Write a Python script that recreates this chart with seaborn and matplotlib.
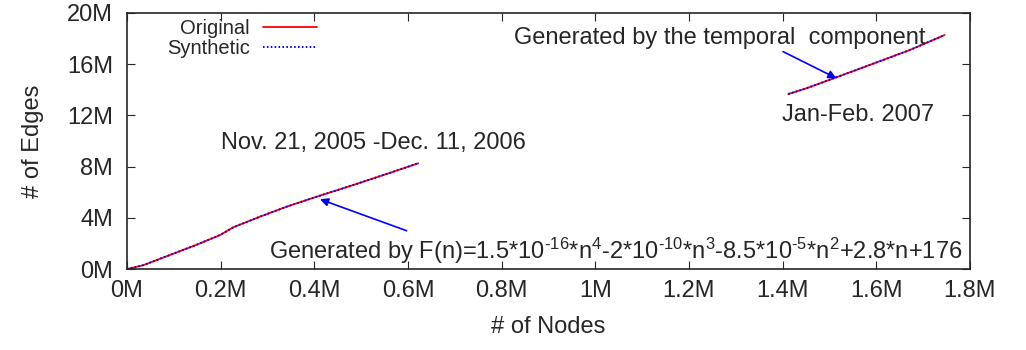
import pandas as pd
import matplotlib
matplotlib.use("Agg")
import matplotlib.pyplot as plt
import seaborn as sns

# values in millions
nodes_2006 = [0.0, 0.035, 0.092, 0.149, 0.199, 0.227, 0.284, 0.341, 0.405, 0.483, 0.554, 0.622]
edges_2006 = [0.0, 0.3, 1.1, 1.9, 2.66, 3.26, 4.09, 4.87, 5.65, 6.56, 7.42, 8.26]
nodes_2007 = [1.412, 1.451, 1.515, 1.586, 1.671, 1.746]
edges_2007 = [13.67, 14.12, 14.98, 15.94, 17.1, 18.28]

x_ticks = [0, 0.2, 0.4, 0.6, 0.8, 1.0, 1.2, 1.4, 1.6, 1.8]
x_labels = ["0M", "0.2M", "0.4M", "0.6M", "0.8M", "1M", "1.2M", "1.4M", "1.6M", "1.8M"]
y_ticks = [0, 4, 8, 12, 16, 20]
y_labels = ["0M", "4M", "8M", "12M", "16M", "20M"]

rows = []
for seg, (xs, ys) in enumerate([(nodes_2006, edges_2006), (nodes_2007, edges_2007)]):
    for series in ["Original", "Synthetic"]:
        for x, y in zip(xs, ys):
            rows.append({"nodes": x, "edges": y, "series": series, "seg": seg})
df = pd.DataFrame(rows)

sns.set_style("ticks")
plt.rcParams["font.family"] = ["Liberation Sans", "DejaVu Sans"]
plt.rcParams["font.size"] = 17
plt.rcParams["mathtext.fontset"] = "custom"
plt.rcParams["mathtext.rm"] = "Liberation Sans"
plt.rcParams["mathtext.it"] = "Liberation Sans"

fig = plt.figure(figsize=(10.26, 3.5), dpi=100)
ax = fig.add_axes([0.1238, 0.2314, 0.8216, 0.7315])

for seg in [0, 1]:
    d = df[(df["series"] == "Original") & (df["seg"] == seg)]
    sns.lineplot(data=d, x="nodes", y="edges", ax=ax, color="red", lw=1.3,
                 label="Original" if seg == 0 else None, sort=False)
    d = df[(df["series"] == "Synthetic") & (df["seg"] == seg)]
    sns.lineplot(data=d, x="nodes", y="edges", ax=ax, color="blue", lw=1.4,
                 linestyle=(0, (0.8, 1.2)), label="Synthetic" if seg == 0 else None,
                 sort=False)

ax.set_xlim(0, 1.8)
ax.set_ylim(0, 20)
ax.set_xticks(x_ticks)
ax.set_xticklabels(x_labels)
ax.set_yticks(y_ticks)
ax.set_yticklabels(y_labels)
ax.tick_params(direction="in", top=True, right=True, length=6, labelsize=17)
ax.tick_params(axis="x", pad=8)
ax.tick_params(axis="y", pad=10)
for s in ax.spines.values():
    s.set_linewidth(1.2)
ax.set_xlabel("# of Nodes", fontsize=17)
ax.set_ylabel("# of Edges", fontsize=17)
ax.xaxis.set_label_coords(0.5, -0.185)
ax.yaxis.set_label_coords(-0.098, 0.5)

ax.legend(loc="upper right", bbox_to_anchor=(0.2254, 0.975), frameon=False,
          markerfirst=False, handlelength=2.7, handletextpad=0.65, fontsize=14.5,
          labelspacing=0.05, borderpad=0, borderaxespad=0)

ax.text(0.527, 9.84, "Nov. 21, 2005 -Dec. 11, 2006", ha="center", va="center", fontsize=17)
ax.text(1.561, 12.03, "Jan-Feb. 2007", ha="center", va="center", fontsize=17)
ax.text(1.266, 18.05, "Generated by the temporal  component", ha="center", va="center", fontsize=17)
ax.text(1.783, 1.45,
        r"Generated by F(n)=1.5*10$^{\text{-16}}$*n$^{\text{4}}$-2*10$^{\text{-10}}$*n$^{\text{3}}$"
        r"-8.5*10$^{\text{-5}}$*n$^{\text{2}}$+2.8*n+176",
        ha="right", va="center", fontsize=17)

ax.annotate("", xy=(0.412, 5.45), xytext=(0.597, 2.99),
            arrowprops=dict(arrowstyle="-|>", color="blue", lw=1.2, mutation_scale=12,
                            shrinkA=0, shrinkB=0))
ax.annotate("", xy=(1.515, 14.9), xytext=(1.401, 16.98),
            arrowprops=dict(arrowstyle="-|>", color="blue", lw=1.2, mutation_scale=12,
                            shrinkA=0, shrinkB=0))

fig.savefig("out.png", dpi=100)
